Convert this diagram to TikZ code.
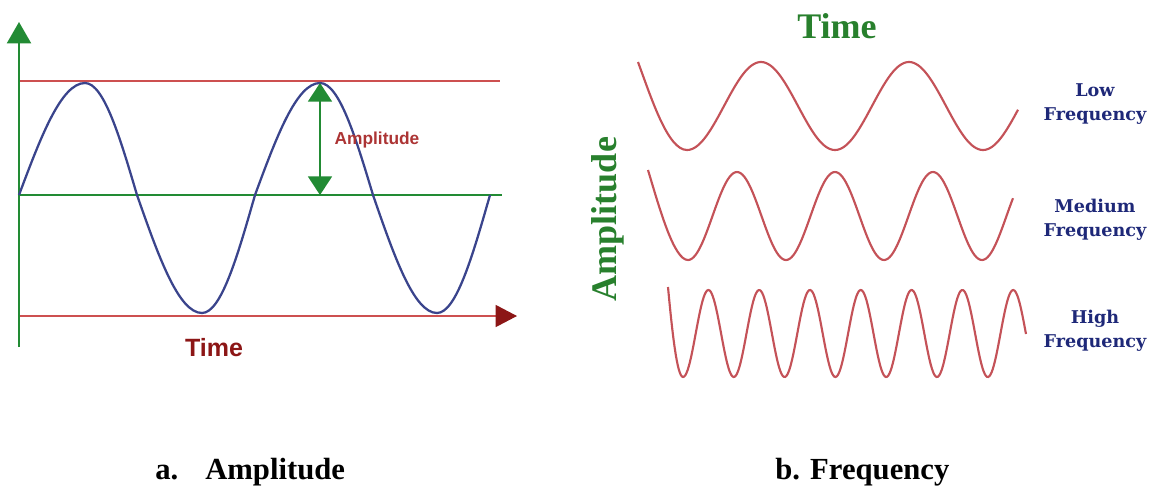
\documentclass[tikz,border=0pt]{standalone}
\usepackage{fontspec}
\setmainfont{Liberation Serif}
\newfontfamily\sansf{Liberation Sans}
\newfontfamily\labelf{DejaVu Serif}
\usetikzlibrary{arrows.meta}
\definecolor{axgreen}{RGB}{34,139,52}
\definecolor{txgreen}{RGB}{40,128,45}
\definecolor{thinred}{RGB}{205,80,80}
\definecolor{sineblue}{RGB}{58,68,140}
\definecolor{darkred}{RGB}{140,22,22}
\definecolor{amplred}{RGB}{172,52,52}
\definecolor{waver}{RGB}{196,82,88}
\definecolor{navy}{RGB}{30,40,120}
\tikzset{
  greenline/.style={draw=axgreen, line width=1.5pt},
  redline/.style={draw=thinred, line width=1pt},
  wave/.style={draw=waver, line width=1.6pt},
  freqlabel/.style={font=\labelf\fontsize{13.2}{18}\selectfont\bfseries, text=navy, align=center},
  caption/.style={font=\fontsize{23}{26}\selectfont\bfseries, text=black, anchor=base west, inner sep=0pt}
}
\begin{document}
\begin{tikzpicture}[x=0.75pt,y=-0.75pt]
\useasboundingbox (0,0) rectangle (1158,487);
% ---------- panel a ----------
\coordinate (axbot) at (19,347);
\coordinate (axtop) at (19,22);
\coordinate (topL) at (19,81);
\coordinate (topR) at (500,81);
\coordinate (midL) at (19,195);
\coordinate (midR) at (502,195);
\coordinate (botL) at (19,316);
\coordinate (botR) at (517,316);
\coordinate (amptop) at (320,83);
\coordinate (ampbot) at (320,195);
\draw[redline] (topL) -- (topR);
\draw[greenline] (midL) -- (midR);
\draw[redline, -{Triangle[width=16.5pt,length=16pt,color=darkred]}] (botL) -- (botR);
\draw[greenline, -{Triangle[width=18pt,length=16pt,color=axgreen]}] (axbot) -- (axtop);
\draw[draw=sineblue, line width=1.7pt, line join=round]
  (19,195) sin (85,83) cos (137,195) sin (202,313) cos (255,195)
  sin (320,83) cos (373,195) sin (437,313) cos (490,195);
\draw[draw=axgreen, line width=1.5pt, {Triangle[width=18pt,length=14pt]}-{Triangle[width=18pt,length=14pt]}] (amptop) -- (ampbot);
\node[font=\sansf\fontsize{13}{15}\selectfont\bfseries, text=amplred] (ampl) at (377,140) {Amplitude};
\node[font=\sansf\fontsize{18.75}{21}\selectfont\bfseries, text=darkred] (timea) at (214,348) {Time};
% ---------- panel b ----------
\node[font=\fontsize{27}{30}\selectfont\bfseries, text=txgreen] (timeb) at (837,26) {Time};
\node[font=\fontsize{27}{30}\selectfont\bfseries, text=txgreen, rotate=90] (amplb) at (608,219) {Amplitude};
% low
\draw[wave] (638,62) .. controls (652,100) and (668,150) .. (687,150)
  -- plot[domain=687:1018, samples=160] (\x,{106+44*cos(2.4324*(\x-687))});
% medium
\draw[wave] (648,170) .. controls (660,210) and (674,260) .. (688,260)
  -- plot[domain=688:1013, samples=180] (\x,{216+44*cos(3.6735*(\x-688))});
% high
\draw[wave] (668,287) .. controls (672,330) and (677,377) .. (683,377)
  -- plot[domain=683:1026, samples=300] (\x,{333.5+43.5*cos(7.0866*(\x-683))});
\node[freqlabel] (low) at (1095,104) {Low\\Frequency};
\node[freqlabel] (med) at (1095,220) {Medium\\Frequency};
\node[freqlabel] (high) at (1095,331) {High\\Frequency};
% ---------- captions ----------
\node[caption] (capa) at (155,479) {a.};
\node[caption] (capaa) at (205,479) {Amplitude};
\node[caption] (capb) at (775,479) {b. Frequency};
\end{tikzpicture}
\end{document}
